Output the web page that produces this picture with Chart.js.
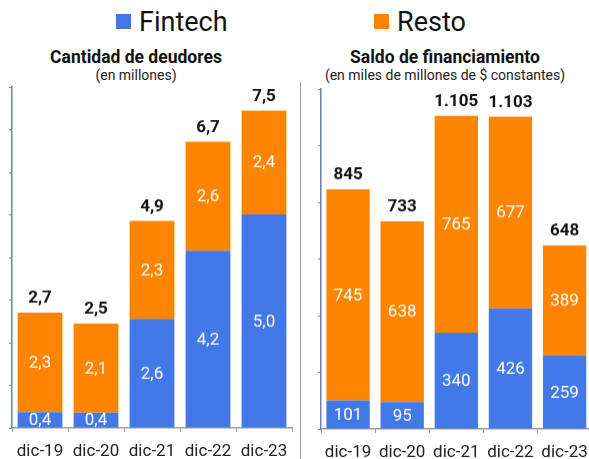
<!DOCTYPE html>
<html lang="es">
<head>
<meta charset="UTF-8">
<title>Fintech vs Resto</title>
<script src="https://cdn.jsdelivr.net/npm/chart.js"></script>
<style>
    body {
        margin: 0;
        width: 589px;
        height: 459px;
        overflow: hidden;
        position: relative;
        background: #fff;
        font-family: Roboto, sans-serif;
        color: #111;
    }
    .legend-item {
        position: absolute;
        top: 6px;
        font-size: 27px;
        line-height: 32px;
    }
    .legend-item span {
        position: absolute;
        left: -23px;
        top: 8px;
        width: 15px;
        height: 15px;
    }
    .head {
        position: absolute;
        text-align: center;
        width: 300px;
    }
    .head b { display: block; font-size: 17.5px; line-height: 20px; }
    .head small { display: block; font-size: 14px; line-height: 16px; color: #222; }
    .divider {
        position: absolute;
        left: 300px;
        top: 82px;
        width: 1px;
        height: 380px;
        background: #999;
    }
    .box { position: absolute; top: 80px; }
</style>
</head>
<body>
    <div class="legend-item" style="left:139px"><span style="background:#4278e8"></span>Fintech</div>
    <div class="legend-item" style="left:397px"><span style="background:#ff8500"></span>Resto</div>

    <div class="head" style="left:-14px; top:47px"><b>Cantidad de deudores</b><small>(en millones)</small></div>
    <div class="head" style="left:295px; top:47px"><b>Saldo de financiamiento</b><small>(en miles de millones de $ constantes)</small></div>

    <div class="divider"></div>

    <div class="box" style="left:0; width:300px; height:389.5px"><canvas id="deudores"></canvas></div>
    <div class="box" style="left:301px; width:296px; height:390.5px"><canvas id="saldo"></canvas></div>

<script>
const periods = ['dic-19', 'dic-20', 'dic-21', 'dic-22', 'dic-23'];

// cantidad de deudores (millones)
const fintechCount = [0.37, 0.36, 2.56, 4.16, 5.01];
const restoCount = [2.34, 2.09, 2.30, 2.56, 2.44];
const totalCount = [2.7, 2.5, 4.9, 6.7, 7.5];

// saldo de financiamiento (miles de millones de $ constantes)
const fintechSaldo = [101, 95, 340, 426, 259];
const restoSaldo = [745, 638, 765, 677, 389];
const totalSaldo = [845, 733, 1105, 1103, 648];

const BLUE = '#4278e8';
const ORANGE = '#ff8500';

function fmtDec(v) {
    return (Math.round(v * 10) / 10).toFixed(1).replace('.', ',');
}
function fmtInt(v) {
    return String(Math.round(v)).replace(/\B(?=(\d{3})+(?!\d))/g, '.');
}

// dibuja los valores dentro de cada tramo y el total arriba
const barLabels = {
    id: 'barLabels',
    afterDatasetsDraw(chart, args, opts) {
        const ctx = chart.ctx;
        ctx.save();
        ctx.textAlign = 'center';
        ctx.textBaseline = 'middle';
        ctx.font = '17px Roboto';
        ctx.fillStyle = '#fff';
        chart.data.datasets.forEach((ds, i) => {
            chart.getDatasetMeta(i).data.forEach((bar, j) => {
                ctx.fillText(opts.fmt(ds.data[j]), bar.x, (bar.y + bar.base) / 2 + 1);
            });
        });
        const last = chart.getDatasetMeta(chart.data.datasets.length - 1).data;
        ctx.font = 'bold 17px Roboto';
        ctx.fillStyle = '#111';
        last.forEach((bar, j) => {
            ctx.fillText(opts.fmt(opts.totals[j]), bar.x, bar.y - 14);
        });
        ctx.restore();
    }
};

function makeChart(id, fintech, resto, totals, max, step, fmt, pad) {
    const ctx = document.getElementById(id).getContext('2d');
    return new Chart(ctx, {
        type: 'bar',
        data: {
            labels: periods,
            datasets: [
                { label: 'Fintech', data: fintech, backgroundColor: BLUE },
                { label: 'Resto', data: resto, backgroundColor: ORANGE }
            ]
        },
        options: {
            responsive: true,
            maintainAspectRatio: false,
            animation: false,
            layout: { padding: pad },
            datasets: { bar: { barPercentage: 0.8, categoryPercentage: 1.0 } },
            plugins: {
                legend: { display: false },
                tooltip: { enabled: false },
                barLabels: { totals: totals, fmt: fmt }
            },
            scales: {
                x: {
                    stacked: true,
                    border: { color: '#999', width: 1.5 },
                    grid: { drawOnChartArea: false, drawTicks: true, tickLength: 4, tickColor: '#999' },
                    ticks: { color: '#222', padding: 9, font: { family: 'Roboto', size: 17 } }
                },
                y: {
                    stacked: true,
                    min: 0,
                    max: max,
                    border: { color: '#6e7fb0', width: 1.5 },
                    grid: { drawOnChartArea: false, drawTicks: true, tickLength: 3, tickColor: '#6e7fb0' },
                    ticks: { display: false, stepSize: step }
                }
            }
        },
        plugins: [barLabels]
    });
}

makeChart('deudores', fintechCount, restoCount, totalCount, 8, 1, fmtDec,
    { left: 9, right: 8, top: 7, bottom: 0 });
makeChart('saldo', fintechSaldo, restoSaldo, totalSaldo, 1200, 200, fmtInt,
    { left: 17, right: 2, top: 9, bottom: 0 });
</script>
</body>
</html>
